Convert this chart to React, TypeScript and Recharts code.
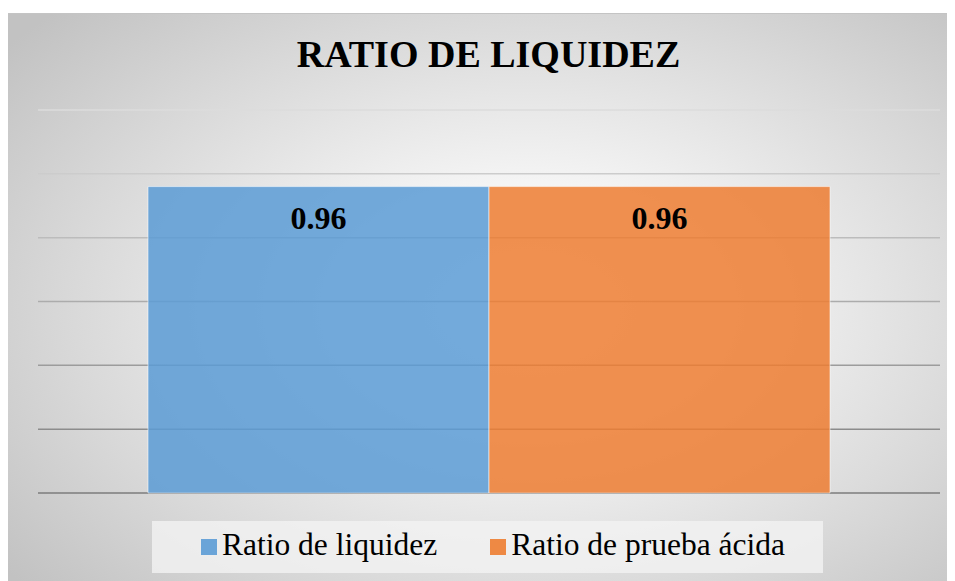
import React from 'react';
import { BarChart, Bar, XAxis, YAxis, CartesianGrid, Legend, LabelList } from 'recharts';

const categories = ['Ratio'];
const seriesNames = ['Ratio de liquidez', 'Ratio de prueba ácida'];
const liquidezValues = [0.96];
const acidaValues = [0.96];
const yTicks = [0, 0.2, 0.4, 0.6, 0.8, 1.0, 1.2];
const seriesColors = ['#5b9bd5', '#ed7d31'];

const data = categories.map((c, i) => ({
    name: c,
    liquidez: liquidezValues[i],
    acida: acidaValues[i],
}));

const serif = '"Liberation Serif", "Times New Roman", serif';

function LegendBox() {
    return (
        <div
            style={{
                width: 671,
                height: 52,
                background: 'rgba(242,242,242,0.8)',
                fontFamily: serif,
                fontSize: 31.5,
                lineHeight: '48px',
                color: '#000',
                paddingLeft: 49,
                boxSizing: 'border-box',
                whiteSpace: 'nowrap',
                textAlign: 'left',
            }}
        >
            {seriesNames.map((n, i) => (
                <span key={n} style={{ marginLeft: i === 0 ? 0 : 53 }}>
                    <span
                        style={{
                            display: 'inline-block',
                            width: 16,
                            height: 16,
                            background: seriesColors[i],
                            opacity: 0.9,
                            marginRight: 5,
                            verticalAlign: 'baseline',
                        }}
                    />
                    {n}
                </span>
            ))}
        </div>
    );
}

export default function App() {
    return (
        <div
            style={{
                position: 'relative',
                width: 947,
                height: 568,
                marginTop: 5,
                borderTop: '1px solid #c4c4c4',
                boxSizing: 'border-box',
                background:
                    'radial-gradient(ellipse 70% 75% at 55% 52%, #ffffff 0%, #f4f4f4 30%, #d8d8d8 70%, #c2c2c2 100%)',
            }}
        >
            <div
                style={{
                    position: 'absolute',
                    left: 7,
                    top: 21,
                    width: 947,
                    textAlign: 'center',
                    fontFamily: serif,
                    fontWeight: 'bold',
                    fontSize: 38,
                    lineHeight: '38px',
                    color: '#000',
                }}
            >
                RATIO DE LIQUIDEZ
            </div>
            <BarChart
                width={947}
                height={567}
                data={data}
                margin={{ top: 96, right: 15, left: 30, bottom: 88 }}
                barCategoryGap={110}
                barGap={0}
                style={{ position: 'absolute', left: 0, top: 0 }}
            >
                <defs>
                    <linearGradient id="gridGrad" gradientUnits="userSpaceOnUse" x1="0" y1="96" x2="0" y2="479">
                        <stop offset="0%" stopColor="#dcdcdc" />
                        <stop offset="100%" stopColor="#7c7c7c" />
                    </linearGradient>
                </defs>
                <CartesianGrid vertical={false} stroke="url(#gridGrad)" strokeWidth={1.5} />
                <XAxis dataKey="name" hide />
                <YAxis domain={[0, 1.2]} ticks={yTicks} hide />
                <Legend
                    layout="horizontal"
                    verticalAlign="middle"
                    content={() => <LegendBox />}
                    wrapperStyle={{ left: 144, top: 507, width: 671, height: 52 }}
                />
                <Bar
                    dataKey="liquidez"
                    name={seriesNames[0]}
                    fill={seriesColors[0]}
                    fillOpacity={0.85}
                    stroke="#ffffff"
                    strokeOpacity={0.55}
                    strokeWidth={1}
                    isAnimationActive={false}
                >
                    <LabelList
                        dataKey="liquidez"
                        position="insideTop"
                        offset={20}
                        style={{ fontFamily: serif, fontWeight: 'bold', fontSize: 32, fill: '#000' }}
                    />
                </Bar>
                <Bar
                    dataKey="acida"
                    name={seriesNames[1]}
                    fill={seriesColors[1]}
                    fillOpacity={0.85}
                    stroke="#ffffff"
                    strokeOpacity={0.55}
                    strokeWidth={1}
                    isAnimationActive={false}
                >
                    <LabelList
                        dataKey="acida"
                        position="insideTop"
                        offset={20}
                        style={{ fontFamily: serif, fontWeight: 'bold', fontSize: 32, fill: '#000' }}
                    />
                </Bar>
            </BarChart>
        </div>
    );
}
